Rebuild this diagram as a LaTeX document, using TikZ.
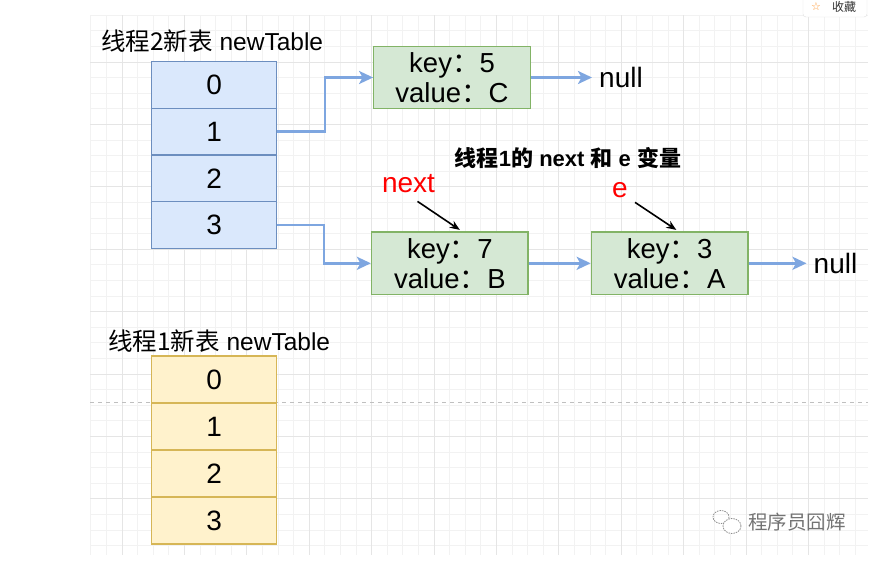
\documentclass[tikz,border=0pt]{standalone}
\usepackage{fontspec}
\setmainfont{Liberation Sans}
\newfontfamily\cjk{Noto Sans CJK SC}
\newfontfamily\symfont{DejaVu Sans}
\usetikzlibrary{arrows.meta, positioning, calc}
\usepackage{xcolor}
\definecolor{bluefill}{HTML}{DAE8FC}
\definecolor{blueline}{HTML}{6C8EBF}
\definecolor{greenfill}{HTML}{D5E8D4}
\definecolor{greenline}{HTML}{82B366}
\definecolor{yellowfill}{HTML}{FFF2CC}
\definecolor{yellowline}{HTML}{D6B656}
\definecolor{linkblue}{HTML}{7EA6E0}
\newcommand{\fwc}{{\cjk ：}}

\begin{document}
\begin{tikzpicture}[
  x=1pt, y=-1pt,
  minorgrid/.style={draw=black!5, line width=0.8pt},
  majorgrid/.style={draw=black!10, line width=1pt},
  bcell/.style={rectangle, draw=blueline, line width=1.3pt, fill=bluefill,
    minimum width=125pt, minimum height=46.67pt, inner sep=0pt, outer sep=0pt,
    font=\fontsize{28}{32}\selectfont},
  ycell/.style={bcell, draw=yellowline, fill=yellowfill, minimum height=47pt},
  entry/.style={rectangle, draw=greenline, line width=1.3pt, fill=greenfill,
    minimum width=156.5pt, minimum height=62.5pt, inner sep=0pt, align=center,
    font=\fontsize{27.5}{30}\selectfont},
  tabletitle/.style={anchor=west, inner sep=2pt, font=\fontsize{24.5}{28}\selectfont},
  nulltext/.style={anchor=west, inner xsep=7pt, inner ysep=0pt, font=\fontsize{28}{32}\selectfont},
  varname/.style={text=red, inner sep=2pt, font=\fontsize{28}{32}\selectfont},
  link/.style={-{Stealth[length=14pt, width=13pt, inset=3.5pt]}, line width=2.6pt, draw=linkblue},
  ptr/.style={-{Stealth[length=10pt, width=8pt]}, line width=1.6pt}
]
\useasboundingbox (0,0) rectangle (889,562);

% grid background
\foreach \gx in {90.8,106.4,...,868} \draw[minorgrid] (\gx,15) -- (\gx,555);
\foreach \gy in {15.2,30.8,...,555} \draw[minorgrid] (90,\gy) -- (868,\gy);
\foreach \gx in {122,184.4,...,868} \draw[majorgrid] (\gx,15) -- (\gx,555);
\foreach \gy in {62,124.4,...,555} \draw[majorgrid] (90,\gy) -- (868,\gy);

% page break line
\draw[draw=black!25, line width=1.3pt, dash pattern=on 4pt off 4pt] (90,402.7) -- (868,402.7);

% thread 2 table
\node (title2) [tabletitle] at (99,41) {{\cjk 线程2新表} newTable};
\node (t0) [bcell] at (214.2,85) {0};
\node (t1) [bcell, below=0pt of t0] {1};
\node (t2) [bcell, below=0pt of t1] {2};
\node (t3) [bcell, below=0pt of t2] {3};

% entries
\node (k5) [entry] at (452,77.5) {key\fwc 5\\value\fwc C};
\node (k7) [entry] at (449.8,263.3) {key\fwc 7\\value\fwc B};
\node (k3) [entry, right=62pt of k7] {key\fwc 3\\value\fwc A};
\node (null1) [nulltext] at (592,77.5) {null};
\node (null2) [nulltext] at (806.5,263.3) {null};

% thread 1 variables
\node (vartitle) [font=\bfseries\fontsize{22}{26}\selectfont] at (568,158)
  {{\cjk 线程}1{\cjk 的} next {\cjk 和} e {\cjk 变量}};
\node (nextlbl) [varname] at (408.5,184) {next};
\node (elbl) [varname] at (620,190.5) {e};

% links
\draw[link] (t1.east) -| ($(t1.east)!0.5!(k5.west)$) |- (k5.west);
\draw[link] (t3.east) -| ($(t3.east)!0.5!(k7.west)$) |- (k7.west);
\draw[link] (k5.east) -- (null1.west);
\draw[link] (k7.east) -- (k3.west);
\draw[link] (k3.east) -- (null2.west);
\draw[ptr] ([xshift=9pt, yshift=-6pt]nextlbl.south) -- ([xshift=10pt, yshift=1.5pt]k7.north);
\draw[ptr] ([xshift=15pt, yshift=-2pt]elbl.south) -- ([xshift=6.7pt, yshift=1.5pt]k3.north);

% thread 1 table
\node (title1) [tabletitle] at (106,341) {{\cjk 线程1新表} newTable};
\node (y0) [ycell] at (214.2,379.5) {0};
\node (y1) [ycell, below=0pt of y0] {1};
\node (y2) [ycell, below=0pt of y1] {2};
\node (y3) [ycell, below=0pt of y2] {3};

% watermark
\draw[draw=black!45, line width=0.8pt, dash pattern=on 1.5pt off 1pt] (721,517) ellipse (8 and 6.5);
\draw[draw=black!45, line width=0.8pt, dash pattern=on 1.5pt off 1pt, fill=white] (732,526) ellipse (9 and 7.5);
\node (wmark) [text=black!55, font=\cjk\fontsize{19.5}{22}\selectfont] at (797,522) {程序员囧辉};

% button at top right
\draw[draw=black!12, fill=white, rounded corners=3pt] (803,-10) rectangle (867,17);
\node (star) [text=orange!80, font=\symfont\fontsize{11}{13}\selectfont, inner sep=0pt] at (816,7) {☆};
\node (fav) [text=black!80, font=\cjk\fontsize{12}{14}\selectfont, inner sep=0pt] at (844,7) {收藏};
\end{tikzpicture}
\end{document}
